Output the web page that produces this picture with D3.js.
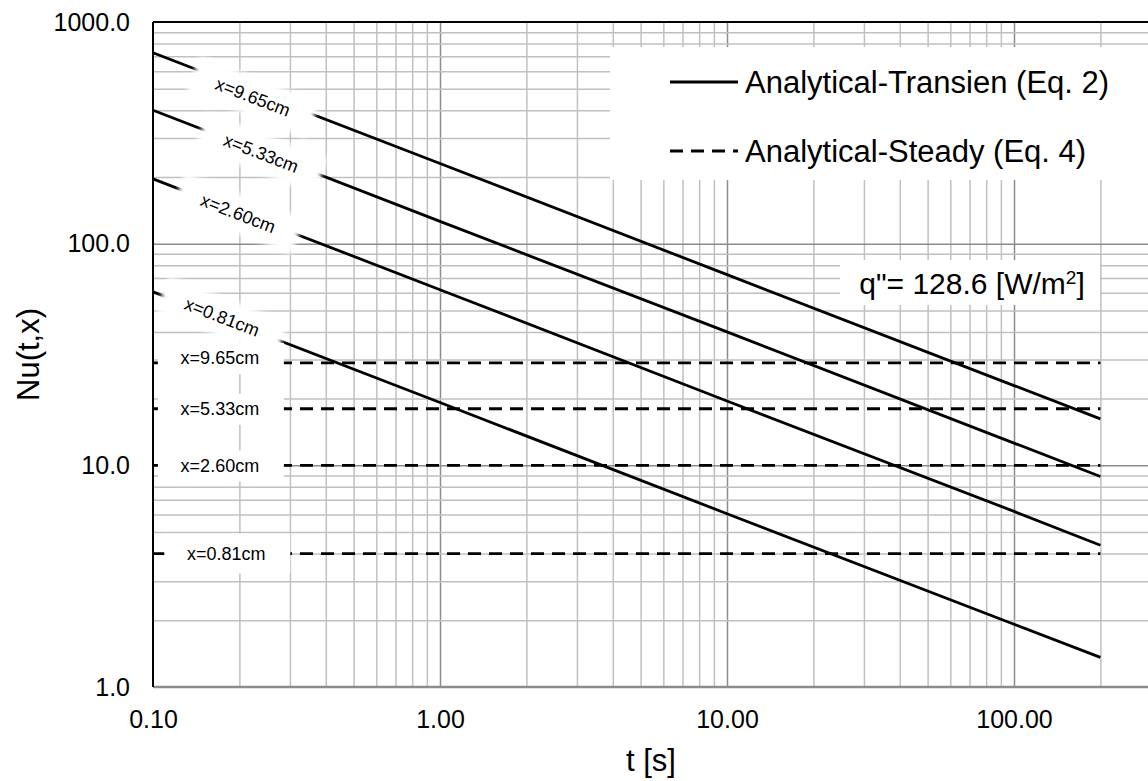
<!DOCTYPE html>
<html>
<head>
<meta charset="utf-8">
<script src="https://cdn.jsdelivr.net/npm/d3@7"></script>
<style>
  body { margin: 0; background: #fff; }
  svg { display: block; font-family: "Liberation Sans", Arial, sans-serif; }
</style>
</head>
<body>
<svg id="chart" width="1148" height="781"></svg>
<script>
// axis ticks
const tTicks = [0.1, 1, 10, 100];
const nuTicks = [1, 10, 100, 1000];

// positions along the plate
const positions = ["x=0.81cm", "x=2.60cm", "x=5.33cm", "x=9.65cm"];

// transient solution (Eq. 2)
const tTransient = [0.1, 1, 10, 100, 200];
const nuTransient081 = [60.6, 19.2, 6.05, 1.92, 1.36];
const nuTransient260 = [196, 62, 19.5, 6.2, 4.36];
const nuTransient533 = [400, 126, 40, 12.6, 8.9];
const nuTransient965 = [727, 230, 72.5, 22.9, 16.2];

// steady solution (Eq. 4)
const tSteady = [0.1, 200];
const nuSteady = [4.0, 10.0, 18.0, 29.0];

// where the line labels sit (data coords)
const transientLabelT = [0.174, 0.198, 0.238, 0.223];
const transientLabelNu = [46.7, 137, 256, 459];
const steadyLabelT = [0.180, 0.171, 0.171, 0.171];
const steadyLabelNu = [4.0, 10.0, 18.0, 30.5];

const legendLabels = ["Analytical-Transien (Eq. 2)", "Analytical-Steady (Eq. 4)"];

const svg = d3.select("#chart");
const plotLeft = 153, plotTop = 22, plotBottom = 687, decadeW = 287;

const x = d3.scaleLog().domain([0.1, 1000]).range([plotLeft, plotLeft + 4 * decadeW]);
const y = d3.scaleLog().domain([1, 1000]).range([plotBottom, plotTop]);

const defs = svg.append("defs");
defs.append("filter").attr("id", "soft")
    .attr("x", "-20%").attr("y", "-40%").attr("width", "140%").attr("height", "180%")
  .append("feGaussianBlur").attr("stdDeviation", 2.5);

//////////// GRID ////////////

function minorTicks(domain) {
    let out = [];
    for (let p = Math.round(Math.log10(domain[0])); p < Math.round(Math.log10(domain[1])); p++) {
        for (let k = 2; k <= 9; k++) out.push(k * Math.pow(10, p));
    }
    return out;
}

const grid = svg.append("g").attr("class", "grid");
const plotH = plotBottom - plotTop;

grid.append("g")
    .attr("transform", `translate(0,${plotBottom})`)
    .call(d3.axisBottom(x).tickValues(minorTicks(x.domain())).tickSize(-plotH).tickFormat(""))
    .call(g => g.select(".domain").remove())
    .call(g => g.selectAll("line").attr("stroke", "#c0c0c0").attr("stroke-width", 1.5));

grid.append("g")
    .attr("transform", `translate(0,${plotBottom})`)
    .call(d3.axisBottom(x).tickValues([1, 10, 100]).tickSize(-plotH).tickFormat(""))
    .call(g => g.select(".domain").remove())
    .call(g => g.selectAll("line").attr("stroke", "#8c8c8c").attr("stroke-width", 1.5));

grid.append("g")
    .attr("transform", `translate(${plotLeft},0)`)
    .call(d3.axisLeft(y).tickValues(minorTicks(y.domain())).tickSize(-(1148 - plotLeft)).tickFormat(""))
    .call(g => g.select(".domain").remove())
    .call(g => g.selectAll("line").attr("stroke", "#c0c0c0").attr("stroke-width", 1.5));

grid.append("g")
    .attr("transform", `translate(${plotLeft},0)`)
    .call(d3.axisLeft(y).tickValues([10, 100]).tickSize(-(1148 - plotLeft)).tickFormat(""))
    .call(g => g.select(".domain").remove())
    .call(g => g.selectAll("line").attr("stroke", "#8c8c8c").attr("stroke-width", 1.5));

//////////// SERIES ////////////

const line = d3.line().x(d => x(d[0])).y(d => y(d[1]));

const transient = [nuTransient081, nuTransient260, nuTransient533, nuTransient965];

svg.append("g").attr("class", "transient")
  .selectAll("path")
  .data(transient)
  .enter().append("path")
    .attr("d", d => line(tTransient.map((t, i) => [t, d[i]])))
    .attr("fill", "none")
    .attr("stroke", "#000")
    .attr("stroke-width", 2.8);

svg.append("g").attr("class", "steady")
  .selectAll("path")
  .data(nuSteady)
  .enter().append("path")
    .attr("d", v => line(tSteady.map(t => [t, v])))
    .attr("fill", "none")
    .attr("stroke", "#000")
    .attr("stroke-width", 2.8)
    .attr("stroke-dasharray", "13,8");

//////////// LABELS ////////////

// angle of the transient lines on screen
const ang = Math.atan2(y(nuTransient965[4]) - y(nuTransient965[0]),
                       x(tTransient[4]) - x(tTransient[0])) * 180 / Math.PI;

const tl = svg.append("g").attr("class", "transient-labels")
  .selectAll("g")
  .data(positions)
  .enter().append("g")
    .attr("transform", (d, i) => `translate(${x(transientLabelT[i])},${y(transientLabelNu[i])}) rotate(${ang})`);

tl.append("rect")
    .attr("x", -64).attr("y", -19).attr("width", 128).attr("height", 38)
    .attr("fill", "#fff").attr("filter", "url(#soft)");
tl.append("text")
    .attr("text-anchor", "middle").attr("dy", "0.35em")
    .attr("font-size", 18)
    .text(d => d);

const sl = svg.append("g").attr("class", "steady-labels")
  .selectAll("g")
  .data(positions)
  .enter().append("g")
    .attr("transform", (d, i) => `translate(${x(steadyLabelT[i])},${y(steadyLabelNu[i])})`);

sl.append("rect")
    .attr("x", -62).attr("y", (d, i) => i == 0 ? -20 : -15)
    .attr("width", 126).attr("height", (d, i) => i == 0 ? 40 : 31)
    .attr("fill", "#fff");
sl.append("text")
    .attr("text-anchor", "middle").attr("dy", "0.35em")
    .attr("font-size", 18)
    .text(d => d);

//////////// AXES ////////////

svg.append("line")
    .attr("x1", plotLeft).attr("x2", 1148).attr("y1", plotTop).attr("y2", plotTop)
    .attr("stroke", "#000").attr("stroke-width", 2);
svg.append("line")
    .attr("x1", plotLeft).attr("x2", 1148).attr("y1", plotBottom).attr("y2", plotBottom)
    .attr("stroke", "#8c8c8c").attr("stroke-width", 2.5);
svg.append("line")
    .attr("x1", plotLeft).attr("x2", plotLeft).attr("y1", plotTop).attr("y2", plotBottom)
    .attr("stroke", "#000").attr("stroke-width", 2);

svg.append("g")
    .attr("transform", `translate(0,${plotBottom})`)
    .call(d3.axisBottom(x).tickValues(tTicks).tickFormat(d3.format(".2f")).tickSize(0).tickPadding(23))
    .call(g => g.select(".domain").remove())
    .call(g => g.selectAll("text").attr("font-size", 25).attr("fill", "#000"))
    .attr("font-family", null);

svg.append("g")
    .attr("transform", `translate(${plotLeft},0)`)
    .call(d3.axisLeft(y).tickValues(nuTicks).tickFormat(d3.format(".1f")).tickSize(0).tickPadding(23))
    .call(g => g.select(".domain").remove())
    .call(g => g.selectAll("text").attr("font-size", 25).attr("fill", "#000"))
    .attr("font-family", null);

svg.append("text")
    .attr("x", 651).attr("y", 771)
    .attr("text-anchor", "middle").attr("font-size", 31)
    .text("t [s]");

svg.append("text")
    .attr("transform", `translate(39,${(plotTop + plotBottom) / 2}) rotate(-90)`)
    .attr("text-anchor", "middle").attr("font-size", 31)
    .text("Nu(t,x)");

//////////// LEGEND ////////////

svg.append("rect")
    .attr("x", 610).attr("y", 47).attr("width", 560).attr("height", 133)
    .attr("fill", "#fff");

const leg = svg.append("g").attr("class", "legend")
  .selectAll("g")
  .data(legendLabels)
  .enter().append("g")
    .attr("transform", (d, i) => `translate(670,${i == 0 ? 82 : 151})`);

leg.append("line")
    .attr("x1", 0).attr("x2", 68)
    .attr("stroke", "#000").attr("stroke-width", 2.8)
    .attr("stroke-dasharray", (d, i) => i == 0 ? null : "13,8");
leg.append("text")
    .attr("x", 75).attr("dy", "0.36em")
    .attr("font-size", 31)
    .text(d => d);

//////////// ANNOTATION ////////////

svg.append("rect")
    .attr("x", 840).attr("y", 260).attr("width", 260).attr("height", 45)
    .attr("fill", "#fff");
const q = svg.append("text")
    .attr("x", 972).attr("y", 283).attr("dy", "0.36em")
    .attr("text-anchor", "middle").attr("font-size", 30);
q.append("tspan").text("q\"= 128.6 [W/m");
q.append("tspan").attr("baseline-shift", "super").attr("font-size", 19).text("2");
q.append("tspan").text("]");
</script>
</body>
</html>
